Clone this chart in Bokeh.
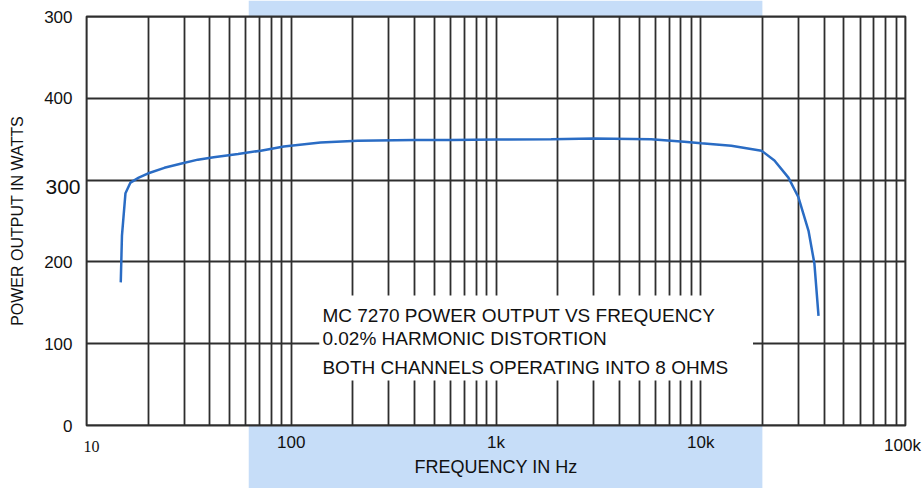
from bokeh.plotting import figure
from bokeh.models import FixedTicker, Label, Range1d
from bokeh.embed import file_html
from bokeh.resources import INLINE

# ---- data ----
freq_hz = [14.7, 14.9, 15.5, 16.4, 18, 19.9, 24, 28.8, 35, 41.8, 55, 71, 92, 139, 211,
           400, 603, 1000, 1860, 3010, 5730, 8300, 10050, 14100, 19800, 22900, 26800,
           30000, 33600, 35900, 37600]
power_w = [175, 232, 284, 297, 303, 308, 315, 320, 325, 328, 332, 336, 341, 346, 348,
           349, 349, 349.5, 350, 351, 350, 347, 345, 342, 336, 324, 303,
           279, 238, 198, 134]

x_decades = [10, 100, 1000, 10000, 100000]
x_tick_labels = ["10", "100", "1k", "10k", "100k"]
x_minor = [d * m for d in x_decades[:-1] for m in range(2, 10)]
y_ticks = [0, 100, 200, 300, 400, 500]
y_tick_labels = ["0", "100", "200", "300", "400", "300"]
band_hz = [62, 20000]
note_lines = ["MC 7270 POWER OUTPUT VS FREQUENCY",
              "0.02%  HARMONIC  DISTORTION",
              "BOTH CHANNELS OPERATING INTO 8 OHMS"]
note_y = [134.5, 106.4, 70.9]
note_x = 142
note_box_hz = [137, 18000]
note_box_w = [55, 159]

# ---- layout (pixels) ----
W, H = 923, 488
PL, PR, PT, PB = 86, 905, 16, 425          # plot-area edges on the canvas
xmin, xmax = x_decades[0], x_decades[-1]
ymin, ymax = y_ticks[0], y_ticks[-1]
dec_px = (PR - PL) / 4.0
y_per_px = (ymax - ymin) / (PB - PT)
x_start = 10 ** (1 - PL / dec_px)
x_end = 10 ** (5 + (W - PR) / dec_px)
y_start = ymin - (H - PB) * y_per_px
y_end = ymax + PT * y_per_px

FONT = "Liberation Sans"
GRID = "#2e2e2e"
BAND = "#c6ddf8"
TXT = "#111111"

p = figure(width=W, height=H, x_axis_type="log",
           x_range=Range1d(x_start, x_end), y_range=Range1d(y_start, y_end),
           output_backend="svg", toolbar_location=None,
           min_border_left=0, min_border_right=0, min_border_top=0, min_border_bottom=0)
p.background_fill_color = "white"
p.border_fill_color = "white"
p.outline_line_color = None

# grid
p.xaxis.ticker = FixedTicker(ticks=x_decades, minor_ticks=x_minor)
p.yaxis.ticker = FixedTicker(ticks=y_ticks)
for g in (p.xgrid, p.ygrid):
    g.grid_line_color = GRID
    g.grid_line_width = 1.8
p.xgrid.minor_grid_line_color = GRID
p.xgrid.minor_grid_line_width = 1.8
xg, yg = p.xgrid[0], p.ygrid[0]
if "cross_bounds" in xg.properties():
    xg.cross_bounds = (ymin, ymax)
    yg.cross_bounds = (xmin, xmax)

# white covers outside the plot area, then the blue band
p.quad(left=[x_start, xmax, x_start, x_start], right=[xmin, x_end, x_end, x_end],
       bottom=[y_start, y_start, ymax, y_start], top=[y_end, y_end, y_end, ymin],
       fill_color="white", fill_alpha=1.0, line_color=None)
p.quad(left=[band_hz[0], band_hz[0]], right=[band_hz[1], band_hz[1]],
       bottom=[ymax, y_start], top=[y_end, ymin],
       fill_color=BAND, line_color=None)
# plot-area border
p.quad(left=[xmin], right=[xmax], bottom=[ymin], top=[ymax],
       fill_color=None, line_color=GRID, line_width=1.8)

# axes (inside the canvas-wide frame)
over = {v: l for v, l in zip(x_decades, x_tick_labels)}
over[10] = ""
over[100000] = ""
p.xaxis.major_label_overrides = over
p.xaxis.axis_label = "FREQUENCY IN Hz"
p.xaxis.fixed_location = ymin
p.xaxis.bounds = (xmin, xmax)
yover = {v: l for v, l in zip(y_ticks, y_tick_labels)}
yover[300] = ""
p.yaxis.major_label_overrides = yover
p.yaxis.axis_label = "POWER OUTPUT IN WATTS"
p.yaxis.fixed_location = xmin
p.yaxis.bounds = (ymin, ymax)

for ax in (p.xaxis, p.yaxis):
    ax.axis_line_color = None
    ax.major_tick_line_color = None
    ax.minor_tick_line_color = None
    ax.major_tick_out = 0
    ax.major_tick_in = 0
    ax.minor_tick_out = 0
    ax.minor_tick_in = 0
    ax.major_label_text_font = FONT
    ax.major_label_text_color = TXT
    ax.axis_label_text_font = FONT
    ax.axis_label_text_font_style = "normal"
    ax.axis_label_text_color = TXT

p.xaxis.major_label_text_font_size = "17px"
p.xaxis.major_label_standoff = 7
p.xaxis.axis_label_text_font_size = "18px"
p.xaxis.axis_label_standoff = 2
p.yaxis.major_label_text_font_size = "17px"
p.yaxis.major_label_standoff = 14
p.yaxis.axis_label_text_font_size = "16px"
p.yaxis.axis_label_standoff = 15

# special tick labels
p.add_layout(Label(x=xmin, y=300, x_offset=-6, y_offset=-7, text=y_tick_labels[3],
                   text_align="right", text_baseline="middle",
                   text_font=FONT, text_font_size="21px", text_color=TXT))
p.add_layout(Label(x=x_decades[0], y=ymin, x_offset=5, y_offset=-21, text=x_tick_labels[0],
                   text_align="center", text_baseline="middle",
                   text_font="Liberation Serif", text_font_size="16px", text_color=TXT))
p.add_layout(Label(x=x_decades[-1], y=ymin, x_offset=-3, y_offset=-20, text=x_tick_labels[-1],
                   text_align="center", text_baseline="middle",
                   text_font=FONT, text_font_size="17px", text_color=TXT))

# white box behind the note text
p.quad(left=[note_box_hz[0]], right=[note_box_hz[1]], bottom=[note_box_w[0]], top=[note_box_w[1]],
       fill_color="white", line_color=None)

# curve
p.line(freq_hz, power_w, line_color="#2a6cc4", line_width=2.5)

# notes
for txt, yy, fs in zip(note_lines, note_y, ["19px", "19px", "19px"]):
    p.add_layout(Label(x=note_x, y=yy, text=txt, text_align="left", text_baseline="middle",
                       text_font=FONT, text_font_size=fs, text_color=TXT))

open("out.html", "w").write(file_html(p, INLINE))
